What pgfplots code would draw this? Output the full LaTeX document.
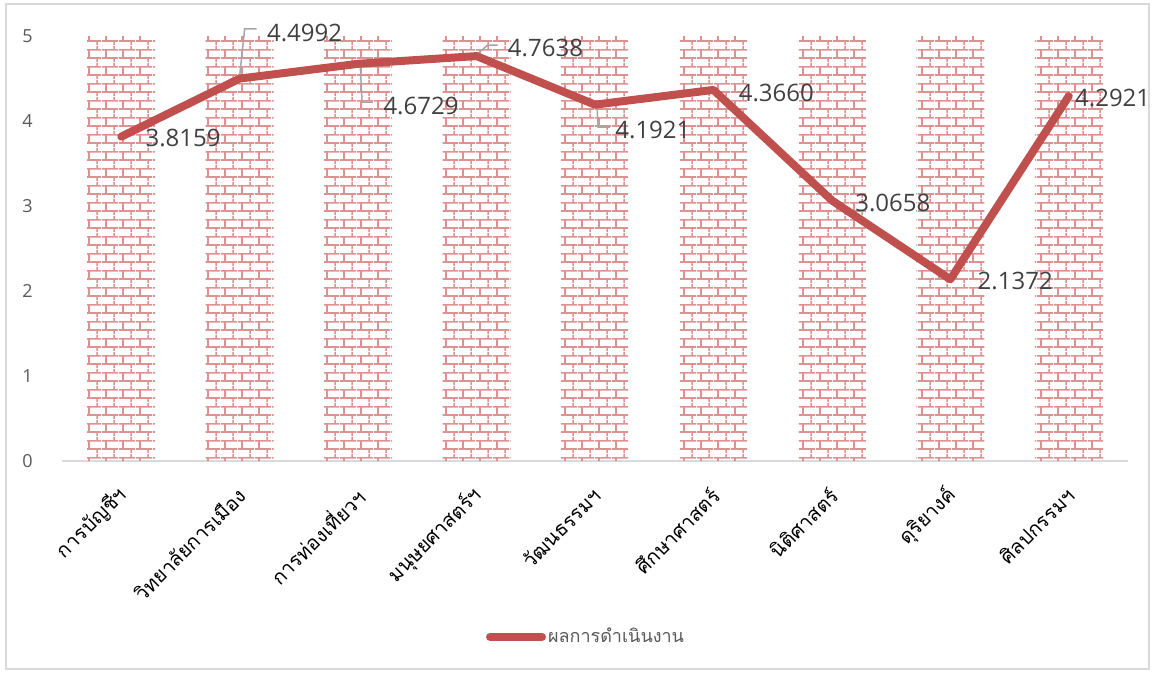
\documentclass[border=0pt]{standalone}
\usepackage{fontspec}
\setmainfont{Open Sans}
\newfontfamily\thaifont[Script=Thai]{Loma}
\usepackage{pgfplots}
\pgfplotsset{compat=1.18}
\usetikzlibrary{patterns.meta}
\definecolor{linecol}{RGB}{192,80,77}
\definecolor{brickcol}{RGB}{222,145,145}
\definecolor{labcol}{RGB}{64,64,64}
\definecolor{tickcol}{RGB}{89,89,89}
\definecolor{axcol}{RGB}{217,217,217}
\definecolor{leadcol}{RGB}{166,166,166}

\tikzdeclarepattern{
  name=mybricks,
  type=uncolored,
  bottom left={(0pt,0pt)},
  top right={(8.5pt,8.5pt)},
  tile size={(8.5pt,8.5pt)},
  code={
    \draw[line width=0.85pt] (0pt,2.125pt) -- (8.5pt,2.125pt);
    \draw[line width=0.85pt] (0pt,6.375pt) -- (8.5pt,6.375pt);
    \draw[line width=0.85pt] (2.125pt,2.125pt) -- (2.125pt,6.375pt);
    \draw[line width=0.85pt] (6.375pt,6.375pt) -- (6.375pt,8.5pt);
    \draw[line width=0.85pt] (6.375pt,0pt) -- (6.375pt,2.125pt);
  }
}

\begin{document}
\begin{tikzpicture}
\begin{axis}[
  at={(0,0)}, anchor=south west,
  width=533pt, height=212.5pt, scale only axis,
  xmin=-0.5, xmax=8.5, ymin=0, ymax=5,
  ytick={0,1,2,3,4,5},
  xtick={0,1,2,3,4,5,6,7,8},
  xticklabels={การบัญชีฯ,วิทยาลัยการเมือง,การท่องเที่ยวฯ,มนุษยศาสตร์ฯ,วัฒนธรรมฯ,ศึกษาศาสตร์,นิติศาสตร์,ดุริยางค์,ศิลปกรรมฯ},
  axis x line*=bottom, axis y line*=left,
  x axis line style={draw=axcol, line width=0.75pt, -},
  y axis line style={draw=none},
  major tick length=0pt,
  clip=false,
  /pgf/number format/assume math mode=true,
  yticklabel style={font=\fontsize{9}{10}\selectfont, text=tickcol, anchor=east, inner sep=0pt, xshift=-14.5pt},
  xticklabel style={xshift=3.5pt, yshift=-13pt, font=\thaifont\fontsize{10}{12}\selectfont, rotate=45, anchor=east, text=black},
  legend style={at={(0.4916,-0.414)}, anchor=center, draw=none, fill=none,
    font=\thaifont\fontsize{9}{11}\selectfont, text=tickcol, inner sep=0pt,
    nodes={inner sep=1pt}},
  legend cell align=left,
  legend image code/.code={\draw[#1, line cap=round] (0pt,0pt) -- (26pt,0pt);},
]
\addplot[ybar, bar width=34pt, draw=none, pattern=mybricks, pattern color=brickcol, forget plot]
  coordinates {(0,5) (1,5) (2,5) (3,5) (4,5) (5,5) (6,5) (7,5) (8,5)};

\draw[leadcol, line width=0.75pt] ([shift={(0pt,1.3pt)}]axis cs:1,4.4992) -- ([shift={(2.5pt,24.8pt)}]axis cs:1,4.4992) -- ([shift={(8.5pt,24.8pt)}]axis cs:1,4.4992);
\draw[leadcol, line width=0.75pt] ([shift={(1pt,0.4pt)}]axis cs:2,4.6729) -- ([shift={(2pt,-19.1pt)}]axis cs:2,4.6729) -- ([shift={(7.5pt,-19.1pt)}]axis cs:2,4.6729);
\draw[leadcol, line width=0.75pt] ([shift={(1pt,1.5pt)}]axis cs:3,4.7638) -- ([shift={(5.5pt,5.5pt)}]axis cs:3,4.7638) -- ([shift={(10.5pt,5.5pt)}]axis cs:3,4.7638);
\draw[leadcol, line width=0.75pt] ([shift={(1pt,0.8pt)}]axis cs:4,4.1921) -- ([shift={(1.5pt,-11.2pt)}]axis cs:4,4.1921) -- ([shift={(7.5pt,-11.2pt)}]axis cs:4,4.1921);

\addplot[linecol, line width=4pt, line join=round, line cap=round]
  coordinates {(0,3.8159) (1,4.4992) (2,4.6729) (3,4.7638) (4,4.1921) (5,4.3660) (6,3.0658) (7,2.1372) (8,4.2921)};
\addlegendentry{ผลการดำเนินงาน}

\tikzset{dl/.style={anchor=west, inner sep=0pt, font=\fontsize{12}{14}\selectfont, text=labcol}}
\node[dl] at ([shift={(12pt,-0.7pt)}]axis cs:0,3.8159) {3.8159};
\node[dl] at ([shift={(13.5pt,22.8pt)}]axis cs:1,4.4992) {4.4992};
\node[dl] at ([shift={(12.5pt,-21.1pt)}]axis cs:2,4.6729) {4.6729};
\node[dl] at ([shift={(15.5pt,4pt)}]axis cs:3,4.7638) {4.7638};
\node[dl] at ([shift={(10pt,-12.6pt)}]axis cs:4,4.1921) {4.1921};
\node[dl] at ([shift={(12.5pt,-1.5pt)}]axis cs:5,4.3660) {4.3660};
\node[dl] at ([shift={(11.5pt,-1.3pt)}]axis cs:6,3.0658) {3.0658};
\node[dl] at ([shift={(13.5pt,-0.9pt)}]axis cs:7,2.1372) {2.1372};
\node[dl] at ([shift={(3pt,-0.9pt)}]axis cs:8,4.2921) {4.2921};
\end{axis}
\pgfresetboundingbox
\path[use as bounding box] (-31pt,-106.5pt) rectangle (546pt,230.5pt);
\draw[axcol, line width=0.75pt] (-28pt,-104pt) rectangle (543.5pt,228.5pt);
\end{tikzpicture}
\end{document}
